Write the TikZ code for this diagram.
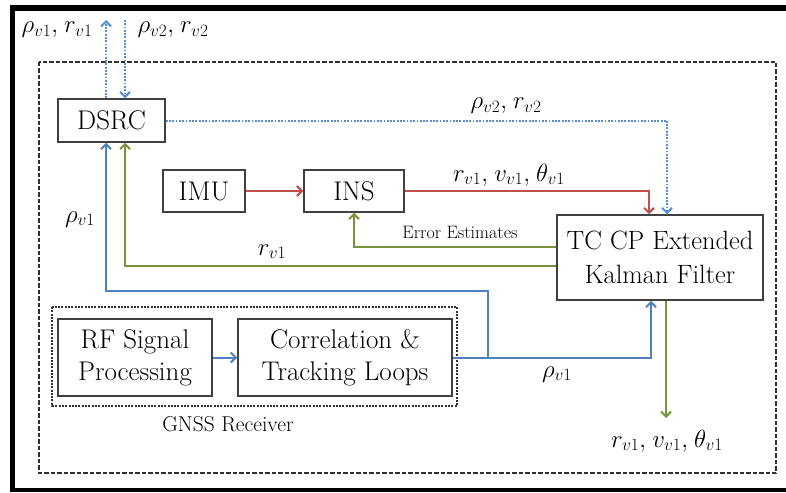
\documentclass[tikz,border=0pt]{standalone}
\usetikzlibrary{arrows.meta}
\definecolor{cred}{HTML}{C0504D}
\definecolor{cblue}{HTML}{4F81BD}
\definecolor{dblue}{HTML}{558ED5}
\definecolor{cgreen}{HTML}{77933C}
\definecolor{boxgray}{HTML}{404040}
\definecolor{dashgray}{HTML}{303030}
\newcommand{\csep}{,\kern2pt}
\begin{document}
\begin{tikzpicture}[x=1pt,y=-1pt,
  >={Straight Barb[length=5pt,width=10pt]},
  blockbox/.style={draw=boxgray,line width=1.5pt,fill=white,inner sep=0pt,align=center,
    font=\fontsize{27}{32}\selectfont},
  redline/.style={draw=cred,line width=2pt},
  blueline/.style={draw=cblue,line width=2pt},
  greenline/.style={draw=cgreen,line width=2pt},
  dotline/.style={draw=dblue,line width=2pt,dash pattern=on 1.8pt off 1.5pt},
  mathlab/.style={anchor=base,inner sep=0pt,font=\fontsize{27}{32}\selectfont},
  smalllab/.style={anchor=base,inner sep=0pt}
]
\useasboundingbox (0,0) rectangle (786,492);
% outer black frame
\fill[black] (10,5) rectangle (786,11);
\fill[black] (10,5) rectangle (15,492);
\fill[black] (10,488) rectangle (786,492);
% dashed system box
\draw[dashgray,line width=1.7pt,dash pattern=on 4.5pt off 2pt] (39,62) rectangle (776,473);
% GNSS receiver box
\draw[dashgray,line width=1.4pt,dash pattern=on 2pt off 1.3pt] (52,307) rectangle (457,406);
\node[smalllab,font=\fontsize{21.5}{24}\selectfont] (gnsslab) at (228,431) {GNSS Receiver};

% blocks
\node[blockbox,minimum width=107pt,minimum height=43pt] (dsrc) at (111.5,120.5) {DSRC};
\node[blockbox,minimum width=82pt,minimum height=42pt] (imu) at (204,191) {IMU};
\node[blockbox,minimum width=100pt,minimum height=42pt] (ins) at (354,191) {INS};
\node[blockbox,minimum width=206pt,minimum height=85pt,font=\fontsize{26.5}{34}\selectfont] (tc) at (660,257.5) {TC CP Extended\\Kalman Filter};
\node[blockbox,minimum width=154pt,minimum height=77pt] (rf) at (135,357.5) {RF Signal\\Processing};
\node[blockbox,minimum width=214pt,minimum height=77pt] (corr) at (345,357.5) {Correlation \&\\Tracking Loops};

% helper coordinates
\coordinate (u1) at (106,20);
\coordinate (d2) at (125,20);
\coordinate (kx) at (667,0);
\coordinate (rx) at (649,0);
\coordinate (cbx) at (651,0);
\coordinate (bx) at (488,291);
\coordinate (g1) at (0,247);
\coordinate (g2) at (0,266);
\coordinate (g3) at (666,418);

% DSRC external links
\draw[dotline,->] (dsrc.north -| u1) -- (u1);
\draw[dotline,->] (d2) -- (dsrc.north -| d2);
\draw[dotline,->] (dsrc.east) -| (tc.north -| kx);

% INS chain
\draw[redline,->] (imu) -- (ins);
\draw[redline,->] (ins.east) -| (tc.north -| rx);
\draw[greenline,->] (tc.west |- g1) -| (ins.south);
\draw[greenline,->] (tc.west |- g2) -| (dsrc.south -| d2);
\draw[greenline,->] (tc.south -| g3) -- (g3);

% GNSS chain
\draw[blueline,->] (rf) -- (corr);
\draw[blueline,->] (corr.east) -| (tc.south -| cbx);
\draw[blueline,->] (corr.east -| bx) -- (bx) -| (dsrc.south -| u1);

% labels
\node[mathlab] (l1) at (57,33) {$\rho_{v1}\csep r_{v1}$};
\node[mathlab] (l2) at (173,33) {$\rho_{v2}\csep r_{v2}$};
\node[mathlab] (l3) at (506,109) {$\rho_{v2}\csep r_{v2}$};
\node[mathlab] (l4) at (509,181) {$r_{v1}\csep v_{v1}\csep \theta_{v1}$};
\node[smalllab,font=\fontsize{18}{20}\selectfont] (l5) at (460,238) {Error Estimates};
\node[mathlab] (l6) at (272,255) {$r_{v1}$};
\node[mathlab] (l7) at (80,222) {$\rho_{v1}$};
\node[mathlab] (l8) at (557,377) {$\rho_{v1}$};
\node[mathlab] (l9) at (667,447) {$r_{v1}\csep v_{v1}\csep \theta_{v1}$};
\end{tikzpicture}
\end{document}
